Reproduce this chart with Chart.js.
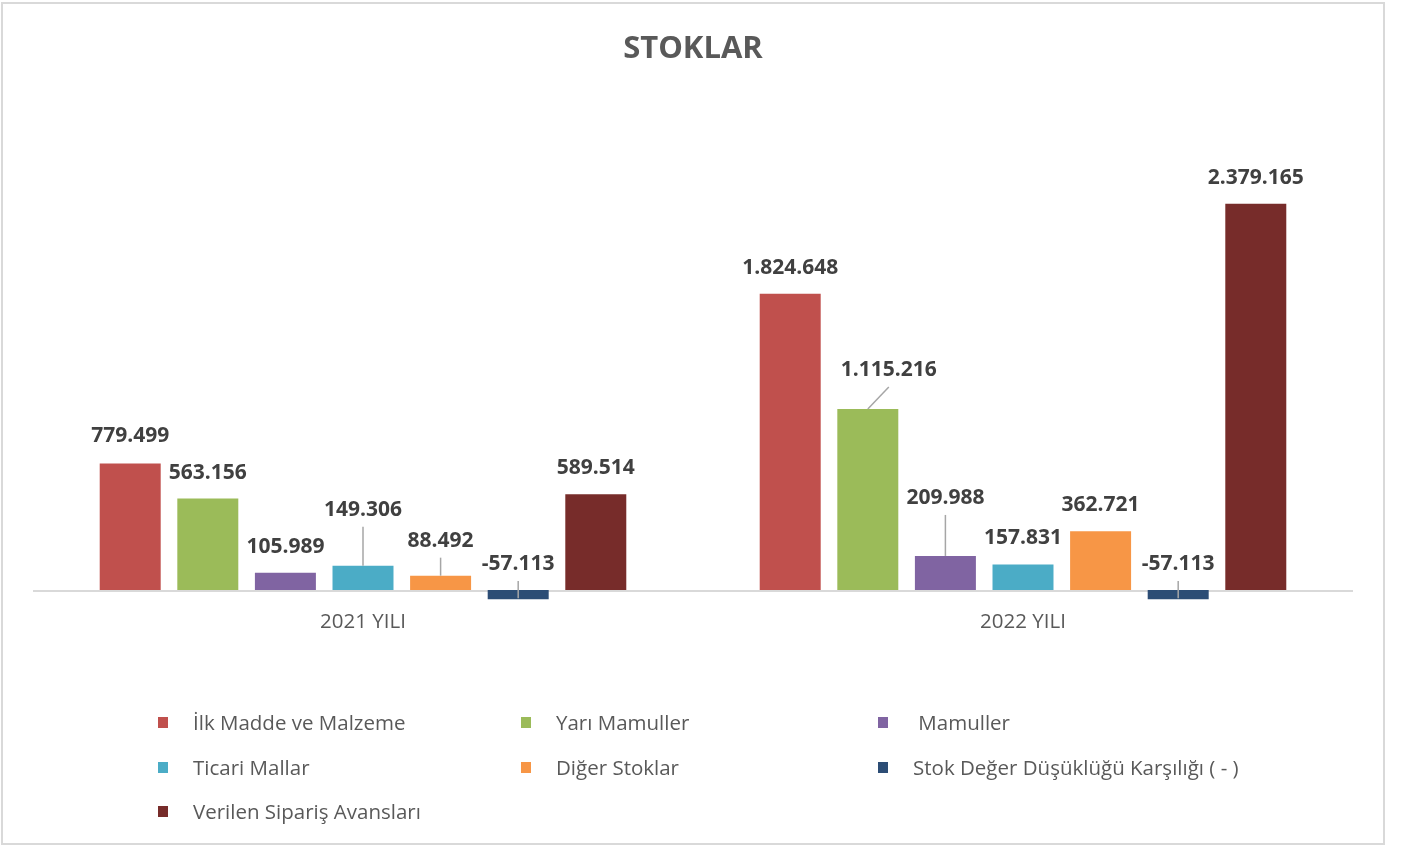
<!DOCTYPE html>
<html lang="tr">
<head>
<meta charset="UTF-8">
<title>Stoklar</title>
<script src="https://cdn.jsdelivr.net/npm/chart.js"></script>
<style>
    html, body { margin: 0; padding: 0; background: #ffffff; }
    #wrap { position: relative; width: 1406px; height: 848px; overflow: hidden; }
    #frame { position: absolute; left: 1px; top: 2px; width: 1380px; height: 839px; border: 2px solid #d9d9d9; }
    #chart { position: absolute; left: 0; top: 0; }
    #legend { position: absolute; left: 0; top: 0; width: 1406px; height: 848px; pointer-events: none;
              font-family: "Open Sans", sans-serif; font-size: 20.5px; color: #595959; }
    .item { position: absolute; white-space: pre; line-height: 24px; }
    .item i { position: absolute; left: -35px; top: 7px; width: 10px; height: 11px; }
</style>
</head>
<body>
<div id="wrap">
    <div id="frame"></div>
    <canvas id="chart" width="1406" height="848"></canvas>
    <div id="legend"></div>
</div>
<script>
    // categories and series
    const years = ['2021 YILI', '2022 YILI'];
    const seriesNames = ['İlk Madde ve Malzeme', 'Yarı Mamuller', ' Mamuller', 'Ticari Mallar',
        'Diğer Stoklar', 'Stok Değer Düşüklüğü Karşılığı ( - )', 'Verilen Sipariş Avansları'];
    const ilkMadde = [779499, 1824648];
    const yariMamul = [563156, 1115216];
    const mamul = [105989, 209988];
    const ticariMal = [149306, 157831];
    const digerStok = [88492, 362721];
    const degerDusuklugu = [-57113, -57113];
    const siparisAvans = [589514, 2379165];

    const seriesValues = [ilkMadde, yariMamul, mamul, ticariMal, digerStok, degerDusuklugu, siparisAvans];
    const colors = ['#c0504d', '#9bbb59', '#8064a2', '#4bacc6', '#f79646', '#2c4d75', '#772c2a'];

    // label nudges in px (Excel moved some labels and drew leader lines)
    const labelNudge = [
        [[0, -1], [0, 0]],
        [[0, 0], [21, -13]],
        [[0, 0], [0, -32]],
        [[0, -30], [0, 0]],
        [[0, -9], [0, 0]],
        [[0, 0], [0, 0]],
        [[0, 0], [0, 0]]
    ];

    function fmt(v) {
        const s = String(Math.abs(v)).replace(/\B(?=(\d{3})+(?!\d))/g, '.');
        return (v < 0 ? '-' : '') + s;
    }

    const zeroLine = {
        id: 'zeroLine',
        beforeDatasetsDraw(chart) {
            const ctx = chart.ctx, area = chart.chartArea;
            const y0 = Math.round(chart.scales.y.getPixelForValue(0)) + 1;
            ctx.save();
            ctx.strokeStyle = '#d9d9d9';
            ctx.lineWidth = 2;
            ctx.beginPath();
            ctx.moveTo(area.left, y0);
            ctx.lineTo(area.right, y0);
            ctx.stroke();
            ctx.restore();
        }
    };

    const valueLabels = {
        id: 'valueLabels',
        afterDatasetsDraw(chart) {
            const ctx = chart.ctx;
            ctx.save();
            ctx.font = 'bold 21px "Open Sans", sans-serif';
            ctx.textAlign = 'center';
            ctx.textBaseline = 'middle';
            chart.data.datasets.forEach((ds, i) => {
                const meta = chart.getDatasetMeta(i);
                meta.data.forEach((bar, j) => {
                    const v = ds.data[j];
                    const anchor = v >= 0 ? bar.y : bar.base;
                    const [dx, dy] = labelNudge[i][j];
                    const cx = bar.x + dx;
                    const cy = anchor - 26 + dy;
                    if (v < 0 || dy < -5 || dx !== 0) {
                        ctx.strokeStyle = '#a6a6a6';
                        ctx.lineWidth = 1.5;
                        ctx.beginPath();
                        ctx.moveTo(bar.x, v >= 0 ? bar.y : bar.y - 1);
                        ctx.lineTo(dx !== 0 ? cx : bar.x, cy + 17);
                        ctx.stroke();
                    }
                    ctx.fillStyle = '#404040';
                    ctx.fillText(fmt(v), cx, cy);
                });
            });
            ctx.restore();
        }
    };

    new Chart(document.getElementById('chart'), {
        type: 'bar',
        data: {
            labels: years,
            datasets: seriesNames.map((name, i) => ({
                label: name,
                data: seriesValues[i],
                backgroundColor: colors[i],
                barPercentage: 0.786,
                categoryPercentage: 0.823
            }))
        },
        options: {
            responsive: false,
            animation: false,
            devicePixelRatio: 1,
            layout: { padding: { left: 33, right: 53, top: 0, bottom: 214 } },
            plugins: {
                legend: { display: false },
                tooltip: { enabled: false },
                title: {
                    display: true,
                    text: 'STOKLAR',
                    color: '#595959',
                    font: { family: '"Open Sans", sans-serif', size: 31, weight: 'bold' },
                    padding: { top: 31, bottom: 51 }
                }
            },
            scales: {
                x: {
                    grid: { display: false },
                    border: { display: false },
                    ticks: { color: '#595959', padding: 0, font: { family: '"Open Sans", sans-serif', size: 20.5 } }
                },
                y: {
                    display: false,
                    min: -70000,
                    max: 2900000
                }
            }
        },
        plugins: [zeroLine, valueLabels]
    });

    // legend laid out in three columns like the original
    const legend = document.getElementById('legend');
    const colX = [193, 556, 913];
    const rowY = [710, 755, 799];
    seriesNames.forEach((name, i) => {
        const el = document.createElement('div');
        el.className = 'item';
        el.style.left = colX[i % 3] + 'px';
        el.style.top = rowY[Math.floor(i / 3)] + 'px';
        const box = document.createElement('i');
        box.style.background = colors[i];
        el.appendChild(box);
        el.appendChild(document.createTextNode(name));
        legend.appendChild(el);
    });
</script>
</body>
</html>
